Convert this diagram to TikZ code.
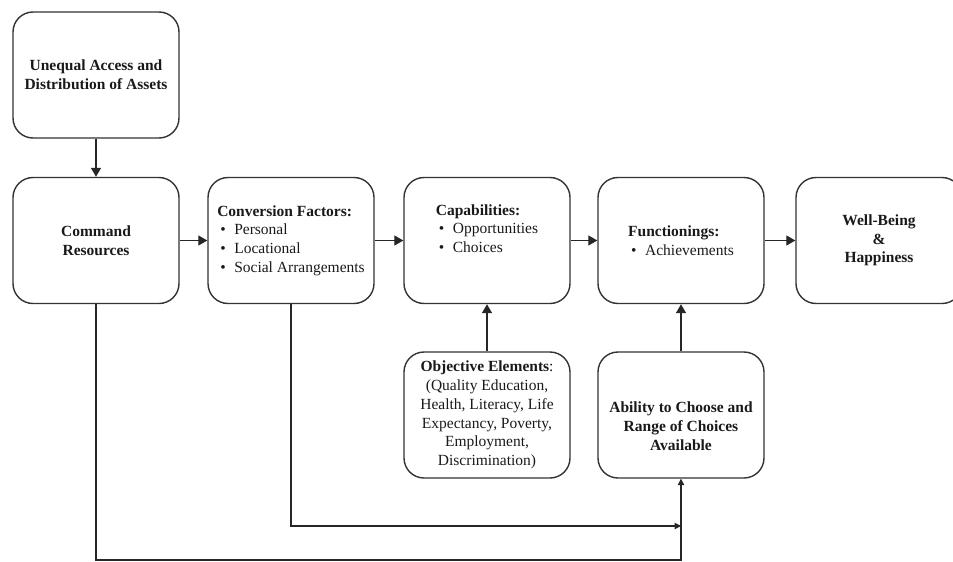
\documentclass[tikz,border=0pt]{standalone}
\usepackage{fontspec}
\setmainfont{Liberation Serif}
\usetikzlibrary{arrows.meta}
\newcommand\bitem[1]{\makebox[17pt][l]{\hspace{3pt}\textbullet}#1}
\begin{document}
\begin{tikzpicture}[x=1pt,y=-1pt,
  box/.style={draw=black!80, line width=1.4pt, rounded corners=20pt,
    minimum width=166pt, minimum height=126pt, inner sep=0pt,
    font=\fontsize{15.5}{18.7}\selectfont, text=black!90},
  conn/.style={draw=black!85, line width=1.3pt, -{Triangle[length=9pt,width=10pt]}},
  sconn/.style={draw=black!85, line width=1.1pt, -{Triangle[length=6.5pt,width=6.5pt]}}]
\useasboundingbox (0,0) rectangle (953,562);
\clip (0,0) rectangle (953,562);
\node[box, align=center, font=\fontsize{15.5}{18.7}\selectfont\bfseries] (une) at (96,75)
  {Unequal Access and\\Distribution of Assets};
\node[box, align=center, font=\fontsize{15.5}{18.7}\selectfont\bfseries] (cmd) at (96,240.5)
  {Command\\Resources};
\node[box, align=left] (conv) at (291,240.5)
  {\textbf{Conversion Factors:}\\\bitem{Personal}\\\bitem{Locational}\\\bitem{Social Arrangements}};
\node[box, align=left] (cap) at (487,240.5)
  {\textbf{Capabilities:}\\\bitem{Opportunities}\\\bitem{Choices}\\\strut};
\node[box, align=left] (fun) at (681,240.5)
  {\textbf{Functionings:}\\\bitem{Achievements}};
\node[box, align=center, font=\fontsize{15.5}{18.7}\selectfont\bfseries] (wb) at (879,240.5)
  {Well-Being\\\&\\Happiness};
\node[box, align=center] (obj) at (487,415)
  {\textbf{Objective Elements}:\\(Quality Education,\\Health, Literacy, Life\\Expectancy, Poverty,\\Employment,\\Discrimination)};
\node[box, align=center, font=\fontsize{15.5}{18.7}\selectfont\bfseries] (abil) at (681,415)
  {\rule{0pt}{33pt}Ability to Choose and\\Range of Choices\\Available};
\draw[conn] (une) -- (cmd);
\draw[conn] (cmd) -- (conv);
\draw[conn] (conv) -- (cap);
\draw[conn] (cap) -- (fun);
\draw[conn] (fun) -- (wb);
\draw[conn] (obj) -- (cap);
\draw[conn] (abil) -- (fun);
\coordinate (j1) at (681,526);
\coordinate (j2) at (681,560);
\draw[sconn] (conv.south) |- (j1);
\draw[sconn] (cmd.south) |- (j2) -- (abil.south);
\end{tikzpicture}
\end{document}
